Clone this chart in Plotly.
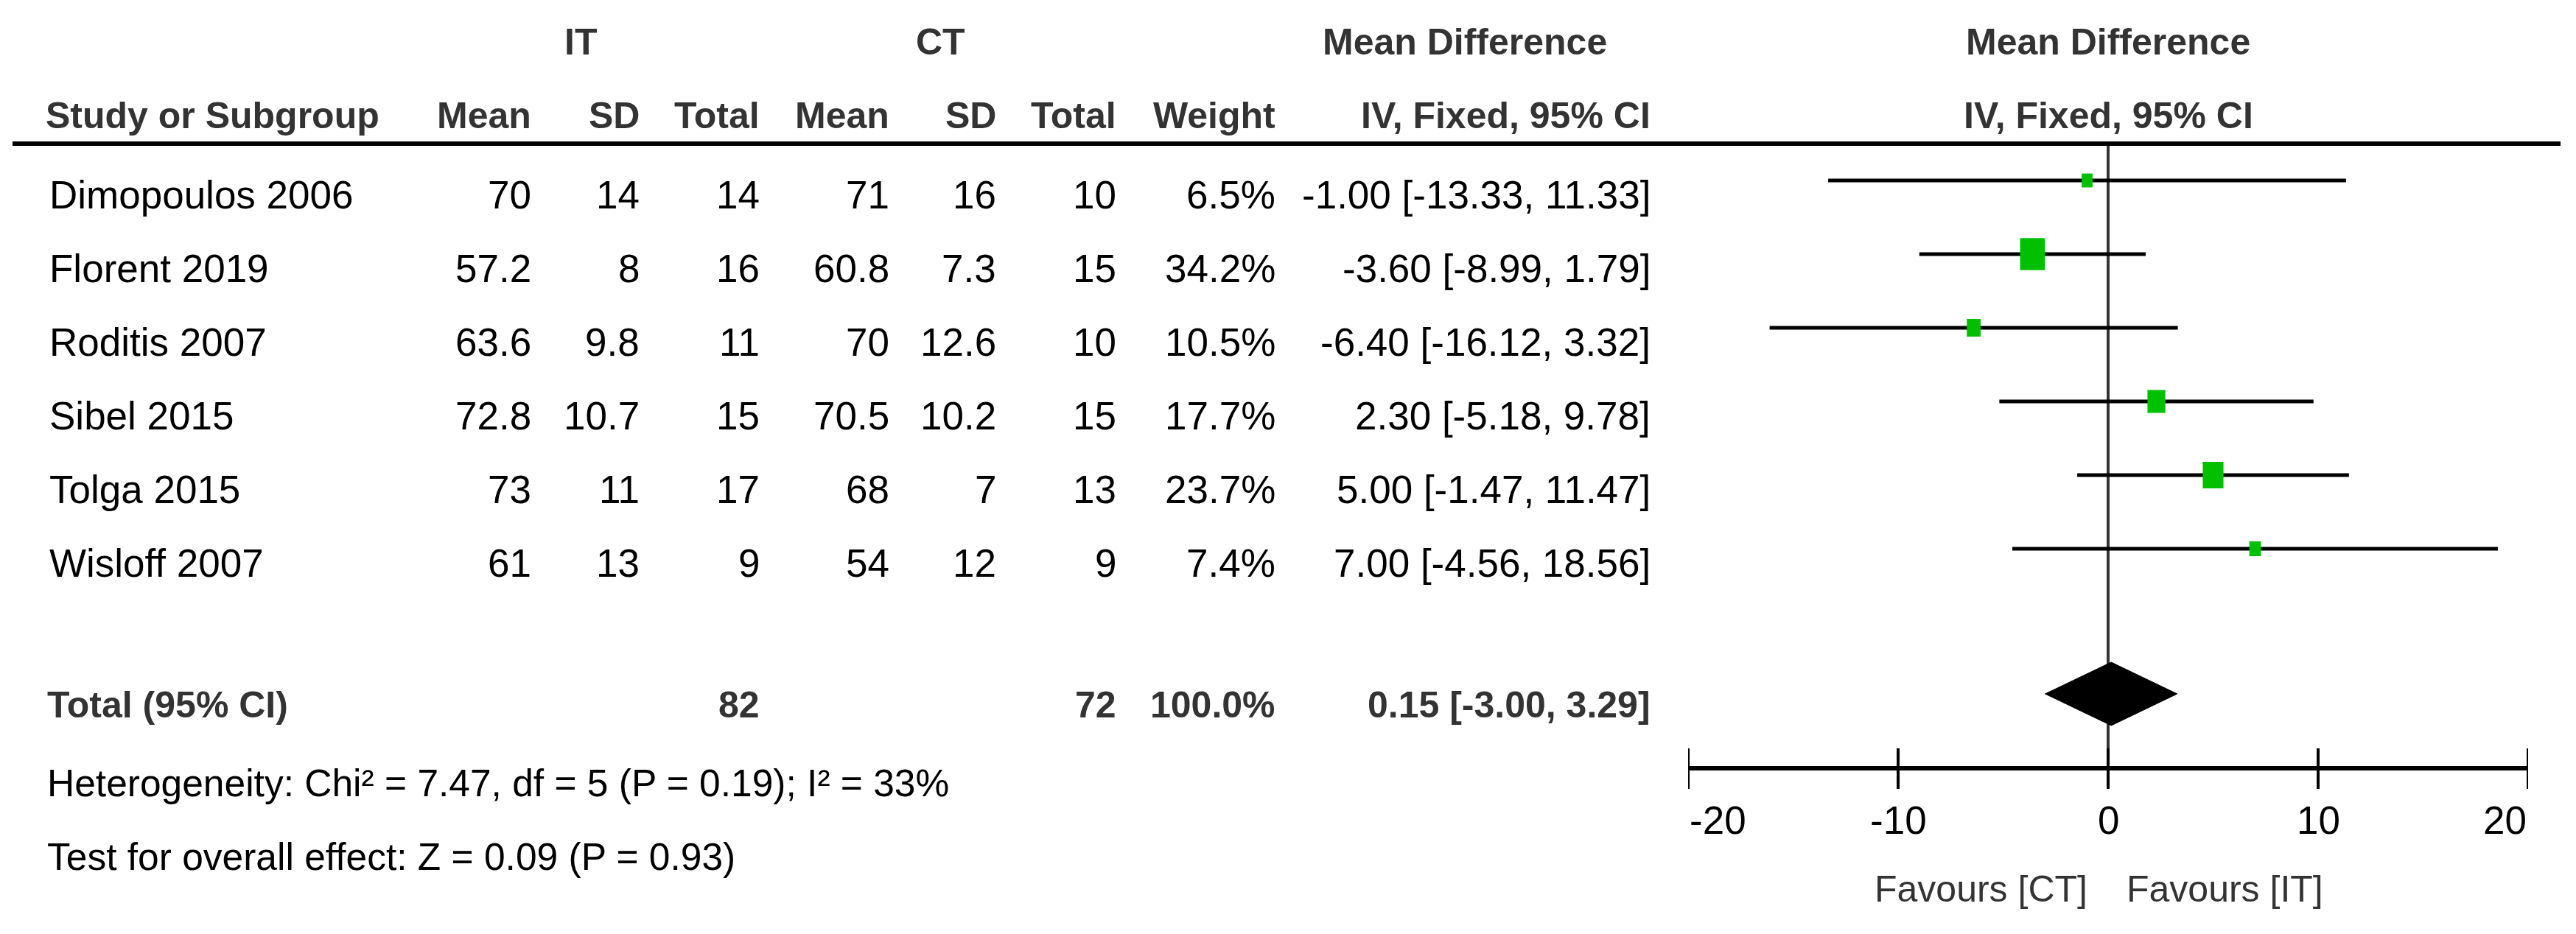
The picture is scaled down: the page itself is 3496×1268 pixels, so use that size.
import glob
import math
import plotly.graph_objects as go

# ---------------- data ----------------
studies = ["Dimopoulos 2006", "Florent 2019", "Roditis 2007", "Sibel 2015", "Tolga 2015", "Wisloff 2007"]
it_mean = [70, 57.2, 63.6, 72.8, 73, 61]
it_sd = [14, 8, 9.8, 10.7, 11, 13]
it_total = [14, 16, 11, 15, 17, 9]
ct_mean = [71, 60.8, 70, 70.5, 68, 54]
ct_sd = [16, 7.3, 12.6, 10.2, 7, 12]
ct_total = [10, 15, 10, 15, 13, 9]
weight = [6.5, 34.2, 10.5, 17.7, 23.7, 7.4]
md = [-1.00, -3.60, -6.40, 2.30, 5.00, 7.00]
ci_low = [-13.33, -8.99, -16.12, -5.18, -1.47, -4.56]
ci_high = [11.33, 1.79, 3.32, 9.78, 11.47, 18.56]

total_label = "Total (95% CI)"
total_md = 0.15
total_low = -3.00
total_high = 3.29
total_weight = 100.0
heterogeneity_text = "Heterogeneity: Chi² = 7.47, df = 5 (P = 0.19); I² = 33%"
overall_text = "Test for overall effect: Z = 0.09 (P = 0.93)"
axis_ticks = [-20, -10, 0, 10, 20]
favours_left = "Favours [CT]"
favours_right = "Favours [IT]"

# ---------------- layout helpers ----------------
W, H = 3496, 1268          # browser window
OFF = 8                    # default page body margin
FW, FH = W - OFF, H - OFF  # figure size so nothing overflows the window

narrow = bool(glob.glob("/usr/share/fonts/**/LiberationSansNarrow*", recursive=True))
if narrow:
    FONT = "Liberation Sans Narrow"
    FS, FSB, FSS = 62, 58, 60
else:
    FONT = "Liberation Sans, Arial, sans-serif"
    FS, FSB, FSS = 53, 50, 51.5

ROW0_PX, ROW_PX = 245, 100
X_LEFT_PX, X_RIGHT_PX = 2291, 3431
PX_PER_UNIT = (X_RIGHT_PX - X_LEFT_PX) / (axis_ticks[-1] - axis_ticks[0])


def ry(p):
    """page pixel (from top) -> row units"""
    return (p - ROW0_PX) / ROW_PX


def px(p):
    """page pixel (from left) -> paper x"""
    return (p - OFF) / FW


annotations = []


def txt(x, y_row, s, anchor, bold=False, color="#000000", xref="paper", size=None):
    annotations.append(dict(
        xref=xref, x=(px(x) if xref == "paper" else x),
        yref="y", y=y_row, text=s, xanchor=anchor, yanchor="middle",
        showarrow=False,
        font=dict(family=FONT, size=(size or (FSB if bold else FS)), color=color,
                  weight=("bold" if bold else "normal")),
    ))


HDR = "#333333"
TEXT_DY = ry(264) - ry(245)

# header
txt(788, ry(57), "IT", "center", True, HDR)
txt(1276, ry(57), "CT", "center", True, HDR)
txt(1988, ry(57), "Mean Difference", "center", True, HDR)
txt(0, ry(57), "Mean Difference", "center", True, HDR, xref="x")
txt(60, ry(157), "Study or Subgroup", "left", True, HDR)
cols = [(723, "Mean"), (870, "SD"), (1033, "Total"), (1209, "Mean"), (1354, "SD"), (1517, "Total"),
        (1733, "Weight"), (2242, "IV, Fixed, 95% CI")]
for xp, lab in cols:
    txt(xp, ry(157), lab, "right", True, HDR)
txt(0, ry(157), "IV, Fixed, 95% CI", "center", True, HDR, xref="x")

# study rows
for i, name in enumerate(studies):
    y = i + TEXT_DY
    txt(65, y, name, "left")
    txt(723, y, f"{it_mean[i]:g}", "right")
    txt(870, y, f"{it_sd[i]:g}", "right")
    txt(1033, y, f"{it_total[i]}", "right")
    txt(1209, y, f"{ct_mean[i]:g}", "right")
    txt(1354, y, f"{ct_sd[i]:g}", "right")
    txt(1517, y, f"{ct_total[i]}", "right")
    txt(1733, y, f"{weight[i]:.1f}%", "right")
    txt(2242, y, f"{md[i]:.2f} [{ci_low[i]:.2f}, {ci_high[i]:.2f}]", "right")

# total row
total_row = ry(942)
yt = ry(957)
txt(62, yt, total_label, "left", True, HDR)
txt(1033, yt, f"{sum(it_total)}", "right", True, HDR)
txt(1517, yt, f"{sum(ct_total)}", "right", True, HDR)
txt(1733, yt, f"{total_weight:.1f}%", "right", True, HDR)
txt(2242, yt, f"{total_md:.2f} [{total_low:.2f}, {total_high:.2f}]", "right", True, HDR)
txt(62, ry(1063), heterogeneity_text, "left", size=FSS)
txt(62, ry(1163), overall_text, "left", size=FSS)

# axis tick labels
for k, t in enumerate(axis_ticks):
    anchor = "left" if k == 0 else ("right" if k == len(axis_ticks) - 1 else "center")
    txt(t, ry(1113), f"{t}", anchor, xref="x")
txt(2835, ry(1207), favours_left, "right", False, HDR, size=FSS - 1.5)
txt(2884, ry(1207), favours_right, "left", False, HDR, size=FSS - 1.5)

# ---------------- traces ----------------
fig = go.Figure()

# line of no effect
fig.add_trace(go.Scatter(x=[0, 0], y=[ry(195), ry(1016)], mode="lines",
                         line=dict(color="#333333", width=4), hoverinfo="skip"))

# CI lines
xs, ys = [], []
for i in range(len(studies)):
    xs += [ci_low[i], ci_high[i], None]
    ys += [i, i, None]
fig.add_trace(go.Scatter(x=xs, y=ys, mode="lines", line=dict(color="#000000", width=5), hoverinfo="skip"))

# diamond
dh = 0.43
fig.add_trace(go.Scatter(
    x=[total_low, total_md, total_high, total_md, total_low],
    y=[total_row, total_row - dh, total_row, total_row + dh, total_row],
    mode="lines", fill="toself", fillcolor="#000000",
    line=dict(color="#000000", width=1), hoverinfo="skip"))

# x axis line and ticks
y_axis = ry(1043)
fig.add_trace(go.Scatter(x=[axis_ticks[0], axis_ticks[-1]], y=[y_axis, y_axis], mode="lines",
                         line=dict(color="#000000", width=6), hoverinfo="skip"))
tx, ty = [], []
for t in axis_ticks:
    tx += [t, t, None]
    ty += [ry(1016), ry(1071), None]
fig.add_trace(go.Scatter(x=tx, y=ty, mode="lines", line=dict(color="#000000", width=4), hoverinfo="skip"))

# weight squares (rectangles)
shapes = []
for i in range(len(studies)):
    h_px = 7.4 * math.sqrt(weight[i])
    w_px = 0.78 * h_px
    hw = w_px / 2 / PX_PER_UNIT
    hh = h_px / 2 / ROW_PX
    shapes.append(dict(type="rect", xref="x", yref="y",
                       x0=md[i] - hw, x1=md[i] + hw, y0=i - hh, y1=i + hh,
                       fillcolor="#00C000", line=dict(width=0), layer="above"))

# header rule
shapes.append(dict(type="line", xref="paper", yref="y", x0=px(17), x1=px(3475),
                   y0=ry(195), y1=ry(195), line=dict(color="#000000", width=6)))

fig.update_layout(
    width=FW, height=FH, autosize=False,
    margin=dict(l=0, r=0, t=0, b=0, pad=0),
    paper_bgcolor="#ffffff", plot_bgcolor="#ffffff",
    showlegend=False,
    xaxis=dict(domain=[px(X_LEFT_PX), px(X_RIGHT_PX)], range=[axis_ticks[0], axis_ticks[-1]],
               visible=False, fixedrange=True),
    yaxis=dict(domain=[0, 1], range=[ry(H), ry(OFF)], visible=False, fixedrange=True),
    annotations=annotations,
    shapes=shapes,
)

fig.write_html("out.html")
